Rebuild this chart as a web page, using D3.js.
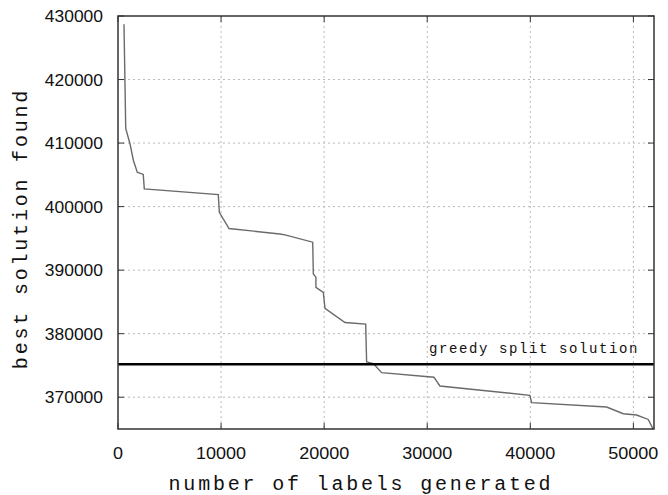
<!DOCTYPE html>
<html>
<head>
<meta charset="utf-8">
<script src="https://cdn.jsdelivr.net/npm/d3@7"></script>
<style>
  body { margin: 0; background: #fff; }
  .tick-label { font-family: "Liberation Sans", Arial, sans-serif; font-size: 17px; fill: #111; }
  .title { font-family: "Liberation Mono", "DejaVu Sans Mono", monospace; font-size: 20px; fill: #111; letter-spacing: 2.8px; }
  .grid line { stroke: #b8b8b8; stroke-dasharray: 2,3; stroke-width: 1; }
</style>
</head>
<body>
<svg width="668" height="495"></svg>
<script>
// labels generated vs best solution found
var labels = [580, 750, 1160, 1490, 1870, 2450, 2550, 9730, 9830, 10770, 15700, 16200,
              18890, 18950, 19200, 19200, 19920, 20080, 22020, 24030, 24120, 24770, 25580,
              30650, 31230, 39960, 40130, 47400, 49020, 50310, 51440, 51930];
var best = [428700, 412300, 409900, 407300, 405430, 405070, 402800, 401900, 399100, 396550, 395700, 395550,
            394400, 389400, 388900, 387300, 386500, 384000, 381760, 381500, 375560, 375300, 373870,
            373150, 371770, 370300, 369140, 368460, 367400, 367200, 366500, 364940];
var greedy = 375200;
var xTicks = [0, 10000, 20000, 30000, 40000, 50000];
var yTicks = [370000, 380000, 390000, 400000, 410000, 420000, 430000];

var svg = d3.select("svg"),
    margin = {top: 16, right: 14, bottom: 66, left: 118},
    width = +svg.attr("width") - margin.left - margin.right,
    height = +svg.attr("height") - margin.top - margin.bottom;

var x = d3.scaleLinear().domain([0, 52000]).range([0, width]),
    y = d3.scaleLinear().domain([365000, 430000]).range([height, 0]);

var g = svg.append("g")
    .attr("transform", "translate(" + margin.left + "," + margin.top + ")");

// grid
var grid = g.append("g").attr("class", "grid");
grid.selectAll("line.v").data(xTicks.filter(function(d){ return d > 0; })).enter().append("line")
    .attr("x1", function(d){ return x(d); }).attr("x2", function(d){ return x(d); })
    .attr("y1", 0).attr("y2", height);
grid.selectAll("line.h").data(yTicks.filter(function(d){ return d < 430000; })).enter().append("line")
    .attr("x1", 0).attr("x2", width)
    .attr("y1", function(d){ return y(d); }).attr("y2", function(d){ return y(d); });

// inward ticks on all four sides
var tk = 6;
var ticks = g.append("g").attr("stroke", "#333").attr("stroke-width", 1);
xTicks.forEach(function(d) {
  ticks.append("line").attr("x1", x(d)).attr("x2", x(d)).attr("y1", height).attr("y2", height - tk);
  ticks.append("line").attr("x1", x(d)).attr("x2", x(d)).attr("y1", 0).attr("y2", tk);
});
yTicks.forEach(function(d) {
  ticks.append("line").attr("x1", 0).attr("x2", tk).attr("y1", y(d)).attr("y2", y(d));
  ticks.append("line").attr("x1", width).attr("x2", width - tk).attr("y1", y(d)).attr("y2", y(d));
});

// tick labels (the originals are a condensed face)
g.selectAll("text.xl").data(xTicks).enter().append("text")
    .attr("class", "tick-label")
    .attr("x", function(d){ return x(d); })
    .attr("y", height + 30)
    .attr("text-anchor", "middle")
    .attr("textLength", function(d){ return String(d).length * 10; })
    .attr("lengthAdjust", "spacingAndGlyphs")
    .text(function(d){ return d; });
g.selectAll("text.yl").data(yTicks).enter().append("text")
    .attr("class", "tick-label")
    .attr("x", -15)
    .attr("y", function(d){ return y(d) + 6; })
    .attr("text-anchor", "end")
    .attr("textLength", function(d){ return String(d).length * 9.7; })
    .attr("lengthAdjust", "spacingAndGlyphs")
    .text(function(d){ return d; });

// curve
var line = d3.line()
    .x(function(d, i) { return x(labels[i]); })
    .y(function(d) { return y(d); });
g.append("path")
    .attr("d", line(best))
    .attr("fill", "none")
    .attr("stroke", "#6a6a6a")
    .attr("stroke-width", 1.4);

// greedy split solution
g.append("line")
    .attr("x1", 0).attr("x2", width)
    .attr("y1", y(greedy)).attr("y2", y(greedy))
    .attr("stroke", "#000").attr("stroke-width", 2.5);
g.append("text")
    .attr("x", width - 15)
    .attr("y", y(greedy) - 11)
    .attr("text-anchor", "end")
    .style("font-family", "'Liberation Mono', monospace")
    .style("font-size", "14px")
    .style("letter-spacing", "1.6px")
    .style("fill", "#111")
    .text("greedy split solution");

// frame
g.append("rect")
    .attr("width", width).attr("height", height)
    .attr("fill", "none").attr("stroke", "#333").attr("stroke-width", 1.5);

// axis titles
svg.append("text")
    .attr("class", "title")
    .attr("x", margin.left + width / 2 - 25)
    .attr("y", 490)
    .attr("text-anchor", "middle")
    .text("number of labels generated");
svg.append("text")
    .attr("class", "title")
    .attr("transform", "translate(27," + (margin.top + height / 2 + 6) + ") rotate(-90)")
    .attr("text-anchor", "middle")
    .text("best solution found");
</script>
</body>
</html>
